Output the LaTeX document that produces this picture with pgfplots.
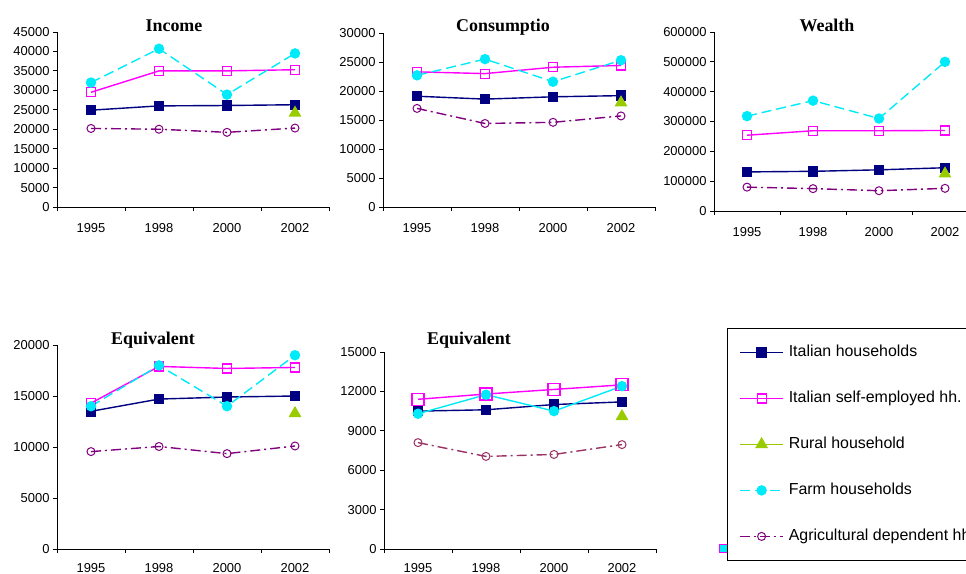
\documentclass[border=0pt]{standalone}
\usepackage{fontspec}
\setmainfont{Liberation Serif}
\setsansfont{Liberation Sans}
\usepackage{pgfplots}
\pgfplotsset{compat=1.18}
\definecolor{navyc}{RGB}{0,0,128}
\definecolor{magc}{RGB}{255,0,255}
\definecolor{limec}{RGB}{153,204,0}
\definecolor{cyanc}{RGB}{0,235,250}
\definecolor{plumc}{RGB}{128,0,128}
\definecolor{plumb}{RGB}{153,51,102}
\pgfplotsset{
  panel/.style={
    scale only axis, axis lines*=left, clip=false,
    xmin=0.5, xmax=4.5, ymin=0,
    xtick={0.5,1.5,2.5,3.5,4.5}, xticklabels={},
    extra x ticks={1,2,3,4}, extra x tick labels={1995,1998,2000,2002},
    extra x tick style={major tick length=0pt},
    tick align=outside, major tick length=4bp,
    tick style={black, line width=0.8bp},
    axis line style={black, line width=0.8bp},
    ticklabel style={font=\fontsize{13}{15}\selectfont\sffamily},
    xticklabel style={yshift=-12.5bp},
    /pgf/number format/assume math mode=true,
    y tick label style={/pgf/number format/.cd, fixed, 1000 sep={}},
    scaled y ticks=false,
  },
  ital/.style={color=navyc, line width=1.4bp, mark=square*, mark size=4.5bp, mark options={solid, fill=navyc}},
  self/.style={color=magc, line width=1.4bp, mark=square, mark size=4.5bp, mark options={solid, line width=1.2bp}},
  rural/.style={color=limec, line width=1.4bp, mark=triangle*, mark size=6bp, mark options={solid}},
  farm/.style={color=cyanc, line width=1.4bp, dash pattern=on 10bp off 5bp, mark=*, mark size=4.5bp, mark options={solid}},
  agri/.style={color=plumc, line width=1.4bp, dash pattern=on 10bp off 4bp on 2bp off 4bp, mark=o, mark size=4bp, mark options={solid, line width=1bp}},
}
\begin{document}
\begin{tikzpicture}
\useasboundingbox (0,0) rectangle (966bp,-574bp);
\clip (0,0) rectangle (966bp,-574bp);

% Income
\begin{axis}[panel, width=272bp, height=175bp, at={(57bp,-207bp)}, anchor=south west,
  ymax=45000, ytick={0,5000,...,45000}]
\addplot[ital] coordinates {(1,24900) (2,26000) (3,26100) (4,26300)};
\addplot[self] coordinates {(1,29500) (2,35000) (3,35000) (4,35300)};
\addplot[rural] coordinates {(4,24200)};
\addplot[farm] coordinates {(1,32000) (2,40700) (3,28900) (4,39500)};
\addplot[agri] coordinates {(1,20200) (2,20000) (3,19200) (4,20300)};
\end{axis}

% Consumption
\begin{axis}[panel, width=272bp, height=174bp, at={(383bp,-207bp)}, anchor=south west,
  ymax=30000, ytick={0,5000,...,30000}]
\addplot[ital] coordinates {(1,19100) (2,18600) (3,19000) (4,19200)};
\addplot[self] coordinates {(1,23300) (2,23000) (3,24100) (4,24400)};
\addplot[rural] coordinates {(4,18000)};
\addplot[farm] coordinates {(1,22700) (2,25500) (3,21600) (4,25300)};
\addplot[agri] coordinates {(1,17000) (2,14400) (3,14600) (4,15700)};
\end{axis}

% Wealth
\begin{axis}[panel, width=264bp, height=179bp, at={(714bp,-211bp)}, anchor=south west,
  ymax=600000, ytick={0,100000,...,600000}]
\addplot[ital] coordinates {(1,131000) (2,133000) (3,138000) (4,145000)};
\addplot[self] coordinates {(1,254000) (2,269000) (3,269000) (4,270000)};
\addplot[rural] coordinates {(4,125000)};
\addplot[farm] coordinates {(1,318000) (2,370000) (3,310000) (4,500000)};
\addplot[agri] coordinates {(1,80000) (2,75000) (3,68000) (4,76000)};
\end{axis}

% Equivalent income
\begin{axis}[panel, width=272bp, height=204bp, at={(57bp,-549bp)}, anchor=south west,
  ymax=20000, ytick={0,5000,...,20000}, xticklabel style={yshift=1.5bp}]
\addplot[ital] coordinates {(1,13500) (2,14700) (3,14900) (4,15000)};
\addplot[self] coordinates {(1,14300) (2,17900) (3,17700) (4,17800)};
\addplot[rural] coordinates {(4,13300)};
\addplot[farm] coordinates {(1,14000) (2,18000) (3,14000) (4,19000)};
\addplot[agri] coordinates {(1,9550) (2,10050) (3,9350) (4,10100)};
\end{axis}

% Equivalent consumption
\begin{axis}[panel, width=272bp, height=197bp, at={(384bp,-549bp)}, anchor=south west,
  ymax=15000, ytick={0,3000,...,15000}, xticklabel style={yshift=1.5bp}]
\addplot[ital] coordinates {(1,10500) (2,10600) (3,11000) (4,11200)};
\addplot[self, mark size=6bp] coordinates {(1,11400) (2,11800) (3,12150) (4,12500)};
\addplot[rural] coordinates {(4,10100)};
\addplot[farm, solid] coordinates {(1,10300) (2,11750) (3,10500) (4,12400)};
\addplot[agri, color=plumb] coordinates {(1,8100) (2,7050) (3,7200) (4,7950)};
\end{axis}

% Legend
\begin{axis}[hide axis, scale only axis, clip=false, width=250bp, height=231bp,
  at={(727bp,-559bp)}, anchor=south west, xmin=0, xmax=1, ymin=0, ymax=1,
  legend cell align=left,
  legend image code/.code={\draw[mark repeat=2, mark phase=2, #1] plot coordinates {(0bp,0bp) (21.5bp,0bp) (43bp,0bp)};},
  legend style={at={(0,1)}, anchor=north west, draw=black, line width=0.8bp,
    inner xsep=12bp, inner ysep=16bp, row sep=30bp, column sep=5bp,
    font=\fontsize{16}{18}\selectfont\sffamily,
    nodes={inner sep=0pt, text height=12bp, text depth=4bp}}]
\addplot[forget plot, only marks, mark=square*, mark size=4bp, draw=magc, fill=cyanc] coordinates {(-0.016,0.048)};
\addlegendimage{ital}
\addlegendentry{Italian households}
\addlegendimage{self}
\addlegendentry{Italian self-employed hh.}
\addlegendimage{rural}
\addlegendentry{Rural household}
\addlegendimage{farm}
\addlegendentry{Farm households}
\addlegendimage{agri}
\addlegendentry{Agricultural dependent hh.}
\end{axis}

% Titles
\node[anchor=base, font=\fontsize{18}{20}\selectfont\bfseries] at (174bp,-31bp) {Income};
\node[anchor=base, font=\fontsize{18}{20}\selectfont\bfseries] at (503bp,-31bp) {Consumptio};
\node[anchor=base, font=\fontsize{18}{20}\selectfont\bfseries] at (827bp,-31bp) {Wealth};
\node[anchor=base, font=\fontsize{18}{20}\selectfont\bfseries] at (153bp,-344bp) {Equivalent};
\node[anchor=base, font=\fontsize{18}{20}\selectfont\bfseries] at (469bp,-344bp) {Equivalent};
\end{tikzpicture}
\end{document}
